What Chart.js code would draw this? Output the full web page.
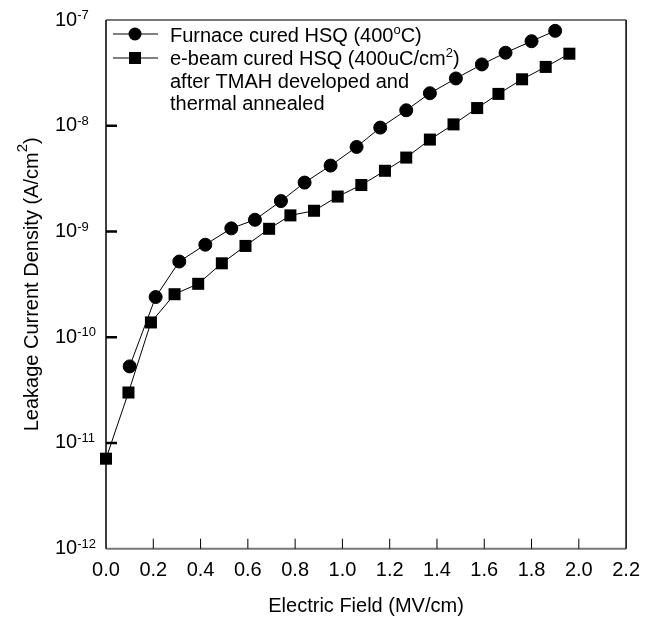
<!DOCTYPE html>
<html>
<head>
<meta charset="utf-8">
<script src="https://cdn.jsdelivr.net/npm/chart.js@4.4.0/dist/chart.umd.min.js"></script>
<style>
  html, body { margin: 0; padding: 0; background: #fff; }
  #wrap { width: 650px; height: 621px; }
</style>
</head>
<body>
<div id="wrap"><canvas id="myChart"></canvas></div>
<script>
// furnace cured HSQ (400 C)
const furnaceField = [0.10, 0.21, 0.31, 0.42, 0.53, 0.63, 0.74, 0.84, 0.95, 1.06, 1.16, 1.27, 1.37, 1.48, 1.59, 1.69, 1.80, 1.90];
const furnaceJ = [5.3e-11, 2.4e-10, 5.2e-10, 7.5e-10, 1.07e-9, 1.29e-9, 1.94e-9, 2.9e-9, 4.2e-9, 6.3e-9, 9.6e-9, 1.4e-8, 2.03e-8, 2.8e-8, 3.8e-8, 4.9e-8, 6.3e-8, 7.9e-8];

// e-beam cured HSQ
const ebeamField = [0.00, 0.095, 0.19, 0.29, 0.39, 0.49, 0.59, 0.69, 0.78, 0.88, 0.98, 1.08, 1.18, 1.27, 1.37, 1.47, 1.57, 1.66, 1.76, 1.86, 1.96];
const ebeamJ = [7.1e-12, 3.0e-11, 1.38e-10, 2.55e-10, 3.2e-10, 5.0e-10, 7.3e-10, 1.06e-9, 1.42e-9, 1.57e-9, 2.14e-9, 2.75e-9, 3.75e-9, 5.0e-9, 7.4e-9, 1.03e-8, 1.47e-8, 2.0e-8, 2.75e-8, 3.6e-8, 4.8e-8];

const yTickExponents = [-12, -11, -10, -9, -8, -7];

// legend text, [text, superscript?]
const legendFurnace = [[['Furnace cured HSQ (400', false], ['o', true], ['C)', false]]];
const legendEbeam = [
  [['e-beam cured HSQ (400uC/cm', false], ['2', true], [')', false]],
  [['after TMAH developed and', false]],
  [['thermal annealed', false]]
];
const yTitle = [['Leakage Current Density (A/cm', false], ['2', true], [')', false]];

const FONT = '"Liberation Sans", Arial, sans-serif';

function toPoints(xs, ys) {
  return xs.map((x, i) => ({ x: x, y: ys[i] }));
}

function drawRich(ctx, parts, x, y, size, supSize, raise) {
  parts.forEach(p => {
    ctx.font = (p[1] ? supSize : size) + 'px ' + FONT;
    ctx.fillText(p[0], x, p[1] ? y - raise : y);
    x += ctx.measureText(p[0]).width;
  });
  return x;
}

function richWidth(ctx, parts, size, supSize) {
  let w = 0;
  parts.forEach(p => {
    ctx.font = (p[1] ? supSize : size) + 'px ' + FONT;
    w += ctx.measureText(p[0]).width;
  });
  return w;
}

const decorPlugin = {
  id: 'decor',
  beforeDatasetsDraw(chart) {
    const ctx = chart.ctx;
    const a = chart.chartArea;
    const xs = chart.scales.x, ys = chart.scales.y;
    ctx.save();
    // frame
    ctx.strokeStyle = '#777';
    ctx.lineWidth = 2;
    ctx.beginPath();
    ctx.moveTo(a.left, a.top); ctx.lineTo(a.right, a.top);
    ctx.moveTo(a.left, a.bottom); ctx.lineTo(a.right, a.bottom);
    ctx.stroke();
    ctx.strokeStyle = '#000';
    ctx.lineWidth = 1.5;
    ctx.beginPath();
    ctx.moveTo(a.left, a.top); ctx.lineTo(a.left, a.bottom);
    ctx.moveTo(a.right, a.top); ctx.lineTo(a.right, a.bottom);
    ctx.stroke();

    // inward x ticks
    ctx.lineWidth = 1;
    ctx.beginPath();
    xs.ticks.forEach(t => {
      const px = xs.getPixelForValue(t.value);
      if (px <= a.left + 1 || px >= a.right - 1) return;
      ctx.moveTo(px, a.bottom);
      ctx.lineTo(px, a.bottom - 10);
    });
    ctx.stroke();

    // inward y ticks + labels
    ctx.lineWidth = 2.5;
    ctx.beginPath();
    yTickExponents.forEach(e => {
      const py = ys.getPixelForValue(Math.pow(10, e));
      if (py <= a.top + 1 || py >= a.bottom - 1) return;
      ctx.moveTo(a.left, py);
      ctx.lineTo(a.left + 11, py);
    });
    ctx.stroke();

    ctx.fillStyle = '#000';
    yTickExponents.forEach(e => {
      const py = ys.getPixelForValue(Math.pow(10, e));
      ctx.textBaseline = 'middle';
      ctx.textAlign = 'left';
      ctx.font = '20px ' + FONT;
      ctx.fillText('10', 55, py);
      const w = ctx.measureText('10').width;
      ctx.font = '13px ' + FONT;
      ctx.fillText(String(e), 55 + w, py - 4.5);
    });

    // y title
    ctx.textBaseline = 'alphabetic';
    const tw = richWidth(ctx, yTitle, 20, 15);
    ctx.translate(38, (a.top + a.bottom) / 2);
    ctx.rotate(-Math.PI / 2);
    drawRich(ctx, yTitle, -tw / 2, 0, 20, 15, 11);
    ctx.restore();
  },
  afterDraw(chart) {
    const ctx = chart.ctx;
    ctx.save();
    ctx.strokeStyle = '#000';
    ctx.fillStyle = '#000';
    ctx.lineWidth = 1;
    // legend symbols
    [34, 58].forEach((ly, i) => {
      ctx.beginPath();
      ctx.moveTo(113, ly); ctx.lineTo(158, ly);
      ctx.stroke();
      ctx.beginPath();
      if (i === 0) ctx.arc(135, ly, 6.5, 0, Math.PI * 2);
      else ctx.rect(129, ly - 6, 12, 12);
      ctx.fill();
    });
    ctx.textBaseline = 'alphabetic';
    ctx.textAlign = 'left';
    drawRich(ctx, legendFurnace[0], 170, 42, 20, 13, 8);
    const base = [65, 88, 110];
    legendEbeam.forEach((line, i) => drawRich(ctx, line, 170, base[i], 20, 13, 8));
    ctx.restore();
  }
};

const ctx = document.getElementById('myChart').getContext('2d');
new Chart(ctx, {
  type: 'scatter',
  data: {
    datasets: [
      {
        label: 'Furnace cured HSQ (400oC)',
        data: toPoints(furnaceField, furnaceJ),
        showLine: true,
        borderColor: '#000',
        borderWidth: 1,
        backgroundColor: '#000',
        pointStyle: 'circle',
        pointRadius: 6.5,
        pointBorderWidth: 1,
        clip: false
      },
      {
        label: 'e-beam cured HSQ',
        data: toPoints(ebeamField, ebeamJ),
        showLine: true,
        borderColor: '#000',
        borderWidth: 1,
        backgroundColor: '#000',
        pointStyle: 'rect',
        pointRadius: 8.5,
        pointBorderWidth: 0,
        clip: false
      }
    ]
  },
  options: {
    responsive: true,
    maintainAspectRatio: false,
    animation: false,
    layout: { padding: { left: 0, top: 20, right: 14.5, bottom: 0 } },
    plugins: { legend: { display: false }, tooltip: { enabled: false } },
    scales: {
      x: {
        type: 'linear',
        min: 0,
        max: 2.2,
        grid: { display: false, drawTicks: false },
        border: { display: false },
        ticks: {
          stepSize: 0.2,
          padding: 10,
          color: '#000',
          font: { family: FONT, size: 20 },
          callback: v => v.toFixed(1)
        },
        title: {
          display: true,
          text: 'Electric Field (MV/cm)',
          color: '#000',
          font: { family: FONT, size: 20 },
          padding: { top: 0, bottom: 2.5 }
        },
        afterFit: s => { s.height = 72.3; }
      },
      y: {
        type: 'logarithmic',
        min: 1e-12,
        max: 1e-7,
        grid: { display: false, drawTicks: false },
        border: { display: false },
        ticks: { display: false },
        afterFit: s => { s.width = 106; }
      }
    }
  },
  plugins: [decorPlugin]
});
</script>
</body>
</html>
